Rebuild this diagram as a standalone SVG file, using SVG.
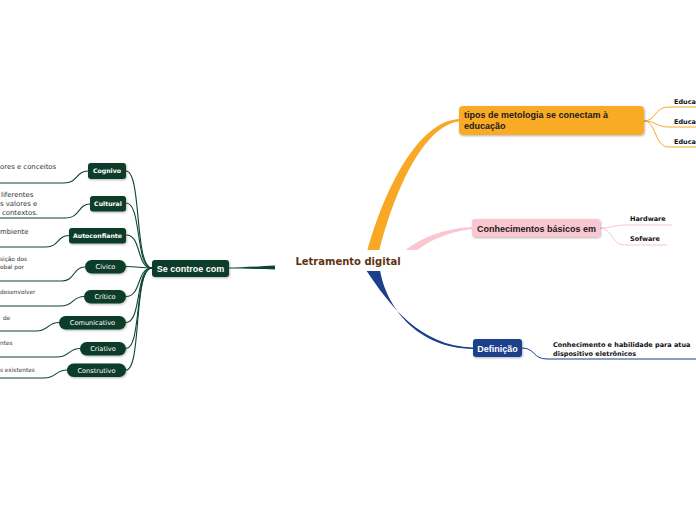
<svg xmlns="http://www.w3.org/2000/svg" width="696" height="520" viewBox="0 0 696 520">
<defs>
<filter id="sh" x="-20%" y="-30%" width="140%" height="160%">
<feDropShadow dx="0.8" dy="1" stdDeviation="0.8" flood-color="#000" flood-opacity="0.3"/>
</filter>
</defs>
<style>
.g{fill:#073d2c}
.gl{fill:none;stroke:#0d4433;stroke-width:1.1}
.ol{fill:none;stroke:#f9a825;stroke-width:1}
.pl{fill:none;stroke:#f9c6d1;stroke-width:1}
.bl{fill:none;stroke:#1c3f8b;stroke-width:1}
.tb{font-family:"DejaVu Sans",Verdana,sans-serif;font-weight:bold;fill:#fff;font-size:6.2px}
.tr{font-family:"DejaVu Sans",Verdana,sans-serif;fill:#fff;font-size:6.6px}
.lt{font-family:"DejaVu Sans",Verdana,sans-serif;fill:#333;font-size:6.9px}
.ls{font-family:"DejaVu Sans",Verdana,sans-serif;fill:#333;font-size:5.8px}
.st{font-family:"DejaVu Sans",Verdana,sans-serif;font-weight:bold;fill:#111;font-size:6.5px}
.mt{font-family:"Liberation Sans",Arial,sans-serif;font-weight:bold;font-size:9px}
</style>
<rect width="696" height="520" fill="#fff"/>
<g id="connectors">
<path d="M367,252 C384,190 418,121 459,119 L459,121.5 C423,126 394,192 379,252 Z" fill="#f9a825"/>
<path d="M403,252 C420,238 442,229 472,227 L472,229 C446,232 427,242 415,252 Z" fill="#f9c6d1"/>
<path d="M366,270 C390,306 420,346 473,347.5 L473,349 C416,348 386,306 380,270 Z" fill="#1c3f8b"/>
<path d="M275,265.5 L275,269.5 C256,269 241,268.8 229,268.6 L229,267.6 C241,267.4 256,266.6 275,265.5 Z" fill="#0d4433"/>
<path class="ol" d="M644,121 C656,121 655,107 668,107 L696,107"/>
<path class="ol" d="M644,121 C656,121 657,127 668,127 L696,127"/>
<path class="ol" d="M644,121 C656,121 655,147 668,147 L696,147"/>
<path class="pl" d="M600,228 C612,228 614,225 626,225 L672,225"/>
<path class="pl" d="M600,228 C612,228 612,245 624,245 L667,245"/>
<path class="bl" d="M522,348 C535,348 533,359 547,359 L696,359"/>
<path class="gl" d="M126,171 C142,171 134,268 152,268"/>
<path class="gl" d="M126,203 C142,203 135,268 152,268"/>
<path class="gl" d="M126,235 C142,235 136,268 152,268"/>
<path class="gl" d="M126,266.5 C138,266.5 140,268 152,268"/>
<path class="gl" d="M126,296.5 C142,296.5 136,268 152,268"/>
<path class="gl" d="M126,322.5 C142,322.5 135,268 152,268"/>
<path class="gl" d="M126,348.5 C142,348.5 134,268 152,268"/>
<path class="gl" d="M126,370 C142,370 133,268 152,268"/>
<path class="gl" d="M88,171 C76,171 78,183 64,183 L0,183"/>
<path class="gl" d="M90,204 C78,204 80,218 66,218 L0,218"/>
<path class="gl" d="M69,235.5 C57,235.5 59,247 46,247 L0,247"/>
<path class="gl" d="M85,267 C73,267 75,281 62,281 L0,281"/>
<path class="gl" d="M84,296.5 C72,296.5 74,306 61,306 L0,306"/>
<path class="gl" d="M59,322.5 C47,322.5 49,331 36,331 L0,331"/>
<path class="gl" d="M80,348.5 C68,348.5 70,357 57,357 L0,357"/>
<path class="gl" d="M67,370 C55,370 57,378 44,378 L0,378"/>
</g>
<g id="center">
<rect x="276" y="250" width="145" height="21" fill="#fff"/>
<text x="348" y="265" text-anchor="middle" font-family="'DejaVu Sans',Verdana,sans-serif" font-weight="bold" font-size="10px" fill="#5c3311">Letramento digital</text>
</g>
<g id="tipos">
<rect x="459" y="106" width="185" height="29" rx="4" fill="#faab26" filter="url(#sh)"/>
<text class="mt" x="464" y="118" fill="#1a1a1a">tipos de metologia se conectam à</text>
<text class="mt" x="464" y="129" fill="#1a1a1a">educação</text>
</g>
<g id="educa1"><text class="st" x="674" y="104">Educa</text></g>
<g id="educa2"><text class="st" x="674" y="124">Educa</text></g>
<g id="educa3"><text class="st" x="674" y="144">Educa</text></g>
<g id="conhecimentos">
<rect x="472" y="219" width="128" height="18" rx="3" fill="#f9c6d1" filter="url(#sh)"/>
<text class="mt" x="477" y="231.5" fill="#1a1a1a">Conhecimentos básicos em</text>
</g>
<g id="hardware"><text class="st" x="630" y="221">Hardware</text></g>
<g id="sofware"><text class="st" x="630" y="241">Sofware</text></g>
<g id="definicao">
<rect x="473" y="339" width="49" height="18" rx="3" fill="#1c3f8b" filter="url(#sh)"/>
<text class="mt" x="497.5" y="351.5" text-anchor="middle" fill="#fff">Definição</text>
</g>
<g id="definicao-texto">
<text class="st" x="553" y="346.5" font-size="6.6px">Conhecimento e habilidade para atua</text>
<text class="st" x="553" y="355.5" font-size="6.6px">dispositivo eletrônicos</text>
</g>
<g id="secontroe">
<rect x="152" y="260" width="77" height="17" rx="3" class="g" filter="url(#sh)"/>
<text class="mt" x="190.5" y="271.5" text-anchor="middle" fill="#fff">Se controe com</text>
</g>
<g id="cognivo">
<rect x="88" y="163" width="38" height="16" rx="3" class="g" filter="url(#sh)"/>
<text class="tb" x="107" y="173.3" text-anchor="middle">Cognivo</text>
<text class="lt" x="0" y="169">ores e conceitos</text>
</g>
<g id="cultural">
<rect x="90" y="196" width="36" height="15.5" rx="3" class="g" filter="url(#sh)"/>
<text class="tb" x="108" y="206" text-anchor="middle">Cultural</text>
<text class="lt" x="1" y="197">liferentes</text>
<text class="lt" x="0" y="206">s valores e</text>
<text class="lt" x="2" y="215">contextos.</text>
</g>
<g id="autoconfiante">
<rect x="69" y="228" width="57" height="15.5" rx="3" class="g" filter="url(#sh)"/>
<text class="tb" x="97.5" y="238" text-anchor="middle">Autoconfiante</text>
<text class="lt" x="0" y="234">mbiente</text>
</g>
<g id="civico">
<rect x="85" y="260" width="41" height="13.5" rx="6.7" class="g" filter="url(#sh)"/>
<text class="tr" x="105.5" y="269.2" text-anchor="middle">Cívico</text>
<text class="ls" x="0" y="261">sição dos</text>
<text class="ls" x="0" y="268.5">obal por</text>
</g>
<g id="critico">
<rect x="84" y="290" width="42" height="13.5" rx="6.7" class="g" filter="url(#sh)"/>
<text class="tr" x="105" y="299.2" text-anchor="middle">Crítico</text>
<text class="ls" x="0" y="294">desenvolver</text>
</g>
<g id="comunicativo">
<rect x="59" y="316" width="67" height="13.5" rx="6.7" class="g" filter="url(#sh)"/>
<text class="tr" x="92.5" y="325.2" text-anchor="middle">Comunicativo</text>
<text class="ls" x="3" y="320">de</text>
</g>
<g id="criativo">
<rect x="80" y="342" width="46" height="13.5" rx="6.7" class="g" filter="url(#sh)"/>
<text class="tr" x="103" y="351.2" text-anchor="middle">Criativo</text>
<text class="ls" x="0" y="345">ntes</text>
</g>
<g id="construtivo">
<rect x="67" y="363.5" width="59" height="13.5" rx="6.7" class="g" filter="url(#sh)"/>
<text class="tr" x="96.5" y="372.7" text-anchor="middle">Construtivo</text>
<text class="ls" x="0" y="372">s existentes</text>
</g>
</svg>
